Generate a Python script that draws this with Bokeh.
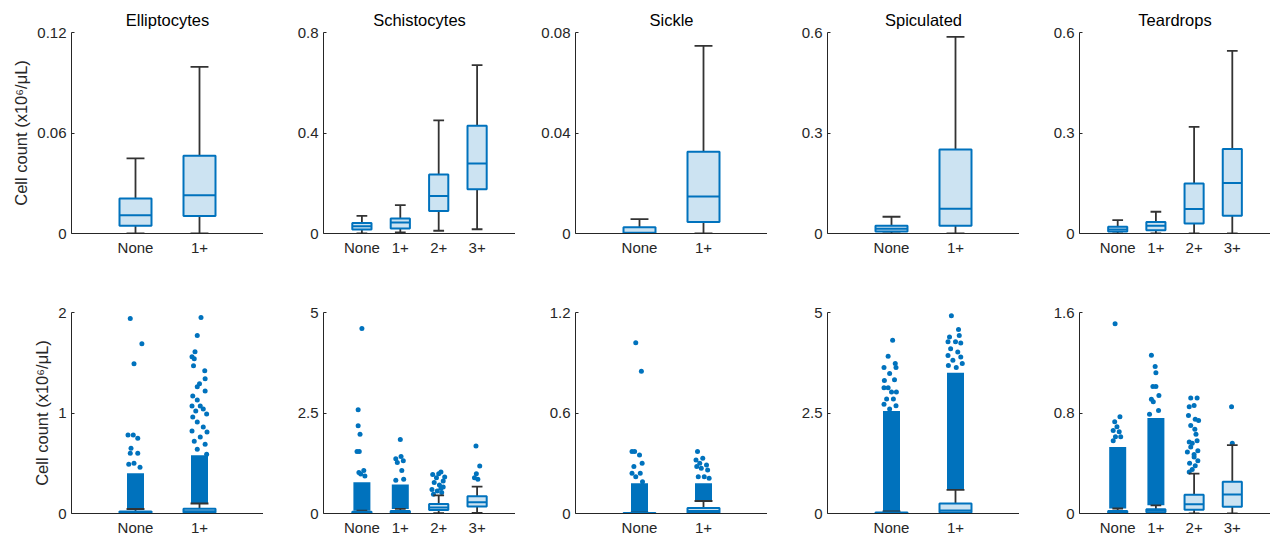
from bokeh.plotting import figure
from bokeh.layouts import column, row
from bokeh.models import Range1d, FixedTicker
from bokeh.embed import file_html
from bokeh.resources import INLINE

# ---------------------------------------------------------------- data
Y_LABEL = "Cell count (x10⁶/μL)"
GRADES_2 = ["None", "1+"]
GRADES_4 = ["None", "1+", "2+", "3+"]

# Elliptocytes
ell_whisker_lo = [0.0, 0.0]
ell_q1 = [0.0046, 0.0105]
ell_median = [0.0109, 0.0229]
ell_q3 = [0.0209, 0.0464]
ell_whisker_hi = [0.0448, 0.0995]
ell_dense_top = [0.40, 0.58]
ell_out_group = [0] * 12 + [1] * 28
ell_out_value = [1.94, 1.69, 1.49, 0.78, 0.78, 0.75, 0.65, 0.60, 0.60, 0.49, 0.50, 0.46,
                 1.95, 1.77, 1.61, 1.56, 1.54, 1.47, 1.42, 1.34, 1.29, 1.26, 1.22, 1.17, 1.13, 1.07,
                 1.07, 1.04, 1.02, 0.96, 0.99, 0.91, 0.86, 0.82, 0.81, 0.76, 0.72, 0.69, 0.64, 0.59]
ell_out_jitter = [-0.7, 0.85, -0.2, -1.0, -0.3, 0.3, -0.6, -0.7, 0.3, -0.9, -0.2, 0.6,
                  0.2, -0.3, -0.6, -1.0, -0.7, -0.8, 0.7, 0.75, 0.0, -0.3, 0.75, -0.9, -0.3, -1.0,
                  0.1, 0.5, -0.5, -0.9, 0.95, -0.3, 0.5, -1.0, 1.0, 0.1, -0.7, 0.75, -0.3, 0.95]
ell_ticks_top = [0, 0.06, 0.12]
ell_labels_top = ["0", "0.06", "0.12"]
ell_ticks_bottom = [0, 1, 2]
ell_labels_bottom = ["0", "1", "2"]

# Schistocytes
sch_whisker_lo = [0.0, 0.004, 0.011, 0.017]
sch_q1 = [0.016, 0.020, 0.090, 0.1765]
sch_median = [0.029, 0.044, 0.149, 0.279]
sch_q3 = [0.042, 0.060, 0.235, 0.4285]
sch_whisker_hi = [0.070, 0.113, 0.450, 0.670]
sch_dense_top = [0.78, 0.72, 0.0, 0.0]
sch_out_group = [0] * 10 + [1] * 8 + [2] * 14 + [3] * 5
sch_out_value = [4.60, 2.58, 2.18, 1.97, 1.54, 1.54, 1.07, 1.02, 0.98, 0.93,
                 1.84, 1.36, 1.42, 1.27, 1.31, 1.07, 0.83, 0.85,
                 1.03, 0.99, 0.97, 0.89, 0.81, 0.77, 0.71, 0.60, 0.56, 0.52, 0.66, 0.48, 0.91, 0.63,
                 1.68, 1.18, 0.99, 0.89, 0.85]
sch_out_jitter = [0.0, -0.5, -0.5, -0.25, -0.65, -0.35, 0.25, -0.4, -0.15, 0.4,
                  0.0, -0.6, 0.1, -0.4, 0.4, 0.2, -0.6, 0.45,
                  0.3, 0.0, -0.8, -0.3, 0.6, -0.6, 0.1, -0.9, -0.2, 0.4, 0.6, -0.7, 0.8, 0.3,
                  -0.15, 0.35, -0.1, -0.35, 0.1]
sch_ticks_top = [0, 0.4, 0.8]
sch_labels_top = ["0", "0.4", "0.8"]
sch_ticks_bottom = [0, 2.5, 5]
sch_labels_bottom = ["0", "2.5", "5"]

# Sickle
sic_whisker_lo = [0.0, 0.0]
sic_q1 = [0.0, 0.0046]
sic_median = [0.0003, 0.0147]
sic_q3 = [0.0025, 0.0325]
sic_whisker_hi = [0.0057, 0.0747]
sic_dense_top = [0.18, 0.18]
sic_out_group = [0] * 11 + [1] * 11
sic_out_value = [1.02, 0.85, 0.37, 0.37, 0.35, 0.30, 0.28, 0.24, 0.24, 0.22, 0.19,
                 0.37, 0.33, 0.32, 0.30, 0.29, 0.28, 0.27, 0.26, 0.22, 0.22, 0.21]
sic_out_jitter = [-0.5, 0.25, -1.0, -0.65, 0.0, 0.35, -0.75, -1.0, 0.1, -0.5, 0.4,
                  -0.8, -0.1, -1.0, -0.5, 0.4, -0.9, -0.3, 0.55, -0.7, 0.1, 0.75]
sic_ticks_top = [0, 0.04, 0.08]
sic_labels_top = ["0", "0.04", "0.08"]
sic_ticks_bottom = [0, 0.6, 1.2]
sic_labels_bottom = ["0", "0.6", "1.2"]

# Spiculated
spi_whisker_lo = [0.0, 0.0]
spi_q1 = [0.006, 0.023]
spi_median = [0.014, 0.074]
spi_q3 = [0.023, 0.251]
spi_whisker_hi = [0.050, 0.587]
spi_dense_top = [2.55, 3.50]
spi_out_group = [0] * 17 + [1] * 15
spi_out_value = [4.31, 3.91, 3.63, 3.73, 3.63, 3.48, 3.31, 3.33, 3.13, 3.13, 3.02, 3.02, 2.85, 2.85,
                 2.72, 2.68, 2.60,
                 4.92, 4.58, 4.43, 4.39, 4.27, 4.24, 4.27, 4.10, 4.02, 3.93, 3.89, 3.81, 3.68, 3.73, 3.63]
spi_out_jitter = [0.15, -0.45, -1.0, 0.5, 0.6, -0.25, -0.95, 0.4, -1.0, -0.45, 0.0, 0.65, -0.65, 0.25,
                  -1.0, 0.6, -0.25,
                  -0.55, 0.4, 0.5, -0.8, 0.0, 0.7, -1.0, -0.65, 0.3, -1.0, 0.7, -0.35, -0.95, 0.9, 0.1]
spi_ticks_top = [0, 0.3, 0.6]
spi_labels_top = ["0", "0.3", "0.6"]
spi_ticks_bottom = [0, 2.5, 5]
spi_labels_bottom = ["0", "2.5", "5"]

# Teardrops
tea_whisker_lo = [0.0, 0.0, 0.0, 0.0]
tea_q1 = [0.006, 0.010, 0.030, 0.053]
tea_median = [0.012, 0.023, 0.073, 0.151]
tea_q3 = [0.020, 0.034, 0.149, 0.252]
tea_whisker_hi = [0.040, 0.065, 0.318, 0.545]
tea_dense_top = [0.53, 0.76, 0.0, 0.0]
tea_out_group = [0] * 9 + [1] * 10 + [2] * 23 + [3] * 2
tea_out_value = [1.51, 0.77, 0.73, 0.69, 0.66, 0.65, 0.61, 0.61, 0.58,
                 1.26, 1.17, 1.12, 1.01, 1.01, 0.94, 0.91, 0.89, 0.82, 0.79,
                 0.92, 0.92, 0.85, 0.86, 0.78, 0.75, 0.74, 0.70, 0.67, 0.57, 0.56, 0.58, 0.49, 0.47,
                 0.50, 0.40, 0.38, 0.35, 0.33, 0.42, 0.45, 0.53, 0.63,
                 0.85, 0.56]
tea_out_jitter = [-0.35, 0.3, -0.4, -0.1, -0.6, 0.2, -0.3, 0.4, -0.6,
                  -0.6, -0.1, 0.0, -0.4, 0.0, 0.4, -0.6, -0.35, 0.35, -0.85,
                  -0.45, 0.4, -0.65, 0.0, -0.75, 0.15, 0.6, -0.45, 0.1, -0.65, -0.25, 0.4, -0.9, 0.0,
                  0.5, -0.6, 0.15, -0.25, -0.65, 0.5, 0.0, -0.45, 0.25,
                  -0.1, 0.0]
tea_ticks_top = [0, 0.3, 0.6]
tea_labels_top = ["0", "0.3", "0.6"]
tea_ticks_bottom = [0, 0.8, 1.6]
tea_labels_bottom = ["0", "0.8", "1.6"]

PANELS = [
    ("Elliptocytes", GRADES_2, ell_whisker_lo, ell_q1, ell_median, ell_q3, ell_whisker_hi,
     ell_dense_top, ell_out_group, ell_out_value, ell_out_jitter,
     ell_ticks_top, ell_labels_top, ell_ticks_bottom, ell_labels_bottom),
    ("Schistocytes", GRADES_4, sch_whisker_lo, sch_q1, sch_median, sch_q3, sch_whisker_hi,
     sch_dense_top, sch_out_group, sch_out_value, sch_out_jitter,
     sch_ticks_top, sch_labels_top, sch_ticks_bottom, sch_labels_bottom),
    ("Sickle", GRADES_2, sic_whisker_lo, sic_q1, sic_median, sic_q3, sic_whisker_hi,
     sic_dense_top, sic_out_group, sic_out_value, sic_out_jitter,
     sic_ticks_top, sic_labels_top, sic_ticks_bottom, sic_labels_bottom),
    ("Spiculated", GRADES_2, spi_whisker_lo, spi_q1, spi_median, spi_q3, spi_whisker_hi,
     spi_dense_top, spi_out_group, spi_out_value, spi_out_jitter,
     spi_ticks_top, spi_labels_top, spi_ticks_bottom, spi_labels_bottom),
    ("Teardrops", GRADES_4, tea_whisker_lo, tea_q1, tea_median, tea_q3, tea_whisker_hi,
     tea_dense_top, tea_out_group, tea_out_value, tea_out_jitter,
     tea_ticks_top, tea_labels_top, tea_ticks_bottom, tea_labels_bottom),
]

# ---------------------------------------------------------------- style
BLUE = "#0072BD"
BOX_FILL = "#CCE3F2"
WHISKER = "#333333"
AXIS = "#262626"
FONT = "Liberation Sans"
FRAME_H = 201
BOX_HALF = 0.25
CAP_HALF = 0.14


def make_axes(col, row_idx, cats, ticks, labels, title):
    n = len(cats)
    fw = 191 if col == 4 else 192
    p = figure(frame_width=fw, frame_height=FRAME_H,
               x_range=Range1d(0, n + 1), y_range=Range1d(0, ticks[-1]),
               output_backend="svg", toolbar_location=None,
               min_border_left=71 if col == 0 else 60, min_border_right=0,
               min_border_top=32, min_border_bottom=47 if row_idx == 0 else 22,
               title=title if row_idx == 0 else None)
    p.background_fill_color = "white"
    p.border_fill_color = "white"
    p.outline_line_color = None
    p.grid.grid_line_color = None
    if row_idx == 0:
        p.title.align = "center"
        p.title.text_font = FONT
        p.title.text_font_size = "16.5px"
        p.title.text_font_style = "normal"
        p.title.text_color = "#000000"
        p.title.standoff = 7

    p.xaxis.ticker = FixedTicker(ticks=list(range(1, n + 1)))
    p.xaxis.major_label_overrides = {i + 1: c for i, c in enumerate(cats)}
    p.yaxis.ticker = FixedTicker(ticks=ticks)
    p.yaxis.major_label_overrides = {t: s for t, s in zip(ticks, labels)}
    for ax in (p.xaxis[0], p.yaxis[0]):
        ax.axis_line_color = AXIS
        ax.axis_line_width = 1
        ax.major_tick_line_color = AXIS
        ax.major_tick_out = 0
        ax.minor_tick_line_color = None
        ax.major_label_text_font = FONT
        ax.major_label_text_font_size = "15px"
        ax.major_label_text_color = AXIS
        ax.major_label_standoff = 5
    p.xaxis.major_tick_in = 0
    p.yaxis.major_tick_in = 3
    if col == 0:
        p.yaxis.axis_label = Y_LABEL
        p.yaxis.axis_label_text_font = FONT
        p.yaxis.axis_label_text_font_size = "16.5px"
        p.yaxis.axis_label_text_font_style = "normal"
        p.yaxis.axis_label_text_color = AXIS
        p.yaxis.axis_label_standoff = 4
    return p, fw / (n + 1)


def draw_boxes(p, wlo, q1, med, q3, whi):
    xs = list(range(1, len(q1) + 1))
    p.segment(x0=xs, y0=q3, x1=xs, y1=whi, line_color=WHISKER, line_width=1.8)
    p.segment(x0=xs, y0=q1, x1=xs, y1=wlo, line_color=WHISKER, line_width=1.8)
    for ys in (whi, wlo):
        p.segment(x0=[x - CAP_HALF for x in xs], y0=ys, x1=[x + CAP_HALF for x in xs], y1=ys,
                  line_color=WHISKER, line_width=1.8)
    p.quad(left=[x - BOX_HALF for x in xs], right=[x + BOX_HALF for x in xs],
           bottom=q1, top=q3, fill_color=BOX_FILL, line_color=BLUE, line_width=2)
    p.segment(x0=[x - BOX_HALF for x in xs], y0=med, x1=[x + BOX_HALF for x in xs], y1=med,
              line_color=BLUE, line_width=2)


def draw_outliers(p, ppu, whi, dense_top, grp, val, jit):
    # the heavily over-plotted part of each jittered outlier strip
    cloud = [(i + 1, lo, hi) for i, (lo, hi) in enumerate(zip(whi, dense_top)) if hi > lo]
    if cloud:
        half = 8.5 / ppu
        p.quad(left=[c[0] - half for c in cloud], right=[c[0] + half for c in cloud],
               bottom=[c[1] for c in cloud], top=[c[2] for c in cloud],
               fill_color=BLUE, line_color=None)
    spread = 7.5 / ppu
    xs = [g + 1 + j * spread for g, j in zip(grp, jit)]
    p.scatter(x=xs, y=val, size=5, fill_color=BLUE, line_color=None)


top_row, bottom_row = [], []
for col, (title, cats, wlo, q1, med, q3, whi, dense, grp, val, jit,
          tt, tl, bt, bl) in enumerate(PANELS):
    p_top, _ = make_axes(col, 0, cats, tt, tl, title)
    draw_boxes(p_top, wlo, q1, med, q3, whi)
    top_row.append(p_top)

    p_bot, ppu = make_axes(col, 1, cats, bt, bl, None)
    draw_outliers(p_bot, ppu, whi, dense, grp, val, jit)
    draw_boxes(p_bot, wlo, q1, med, q3, whi)
    bottom_row.append(p_bot)

layout = column(row(*top_row), row(*bottom_row))
open("out.html", "w").write(file_html(layout, INLINE))
